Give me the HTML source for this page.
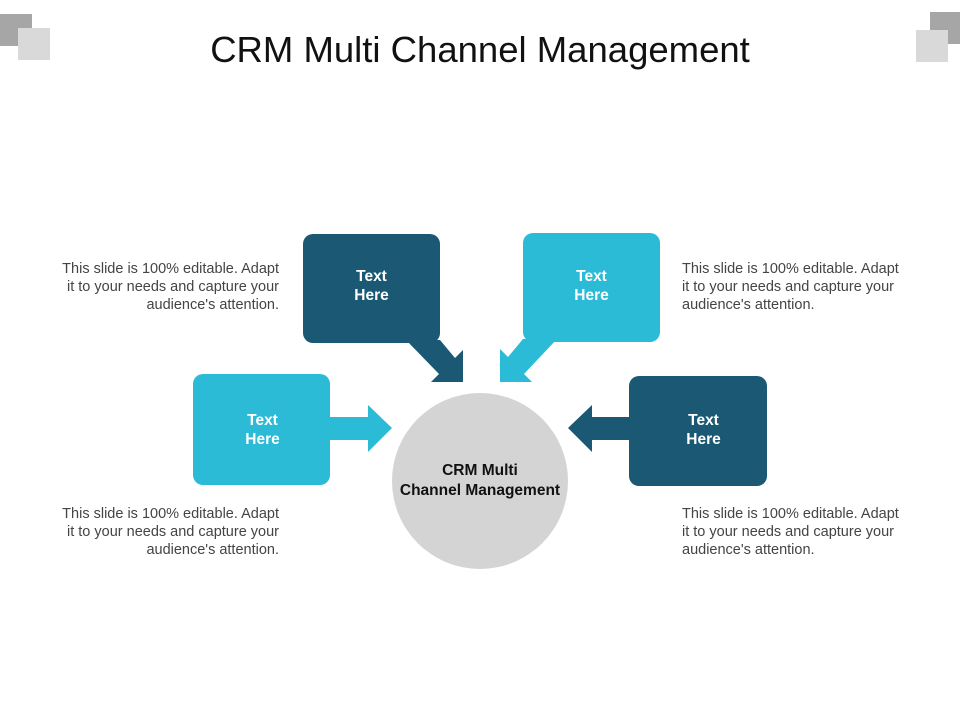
<!DOCTYPE html>
<html><head><style>
body{margin:0;width:960px;height:720px;background:#fff;position:relative;overflow:hidden;font-family:"Liberation Sans",Arial,sans-serif}
.t{position:absolute;font-size:14.5px;line-height:18px;color:#444;white-space:nowrap}
.r{text-align:right}
.b{position:absolute;color:#fff;font-weight:bold;font-size:15.5px;line-height:19px;text-align:center}
</style></head><body>
<svg width="960" height="720" style="position:absolute;left:0;top:0">
<rect x="0" y="14" width="32" height="32" fill="#a6a6a6"/>
<rect x="18" y="28" width="32" height="32" fill="#d9d9d9"/>
<rect x="930" y="12" width="30" height="32" fill="#a6a6a6"/>
<rect x="916" y="30" width="32" height="32" fill="#d9d9d9"/>
<circle cx="480" cy="481" r="88" fill="#d4d4d4"/>
<rect x="303" y="234" width="137" height="109" rx="10" fill="#1b5874"/>
<polygon points="406,340 440,340 455,358 463,350 463,382 431,382 439,374" fill="#1b5874"/>
<rect x="523" y="233" width="137" height="109" rx="10" fill="#2bbbd6"/>
<polygon points="557,339 523,339 508,357 500,349 500,382 532,382 524,374" fill="#2bbbd6"/>
<rect x="193" y="374" width="137" height="111" rx="10" fill="#2bbbd6"/>
<polygon points="328,417 368,417 368,405 392,428 368,452 368,440 328,440" fill="#2bbbd6"/>
<rect x="629" y="376" width="138" height="110" rx="10" fill="#1b5874"/>
<polygon points="632,417 592,417 592,405 568,428 592,452 592,440 632,440" fill="#1b5874"/>
</svg>
<div style="position:absolute;left:0;width:960px;top:29px;text-align:center;font-size:36.5px;color:#111">CRM Multi Channel Management</div>
<div class="b" style="left:303px;width:137px;top:267px">Text<br>Here</div>
<div class="b" style="left:523px;width:137px;top:267px">Text<br>Here</div>
<div class="b" style="left:194px;width:137px;top:411px">Text<br>Here</div>
<div class="b" style="left:635px;width:137px;top:411px">Text<br>Here</div>
<div style="position:absolute;left:370px;width:220px;top:461px;text-align:center;font-weight:bold;font-size:15.5px;line-height:20px;color:#111">CRM Multi<br>Channel Management</div>
<div class="t r" style="left:20px;width:259px;top:260px">This slide is 100% editable. Adapt<br>it to your needs and capture your<br>audience's attention.</div>
<div class="t r" style="left:20px;width:259px;top:505px">This slide is 100% editable. Adapt<br>it to your needs and capture your<br>audience's attention.</div>
<div class="t" style="left:682px;width:260px;top:260px">This slide is 100% editable. Adapt<br>it to your needs and capture your<br>audience's attention.</div>
<div class="t" style="left:682px;width:260px;top:505px">This slide is 100% editable. Adapt<br>it to your needs and capture your<br>audience's attention.</div>
</body></html>
